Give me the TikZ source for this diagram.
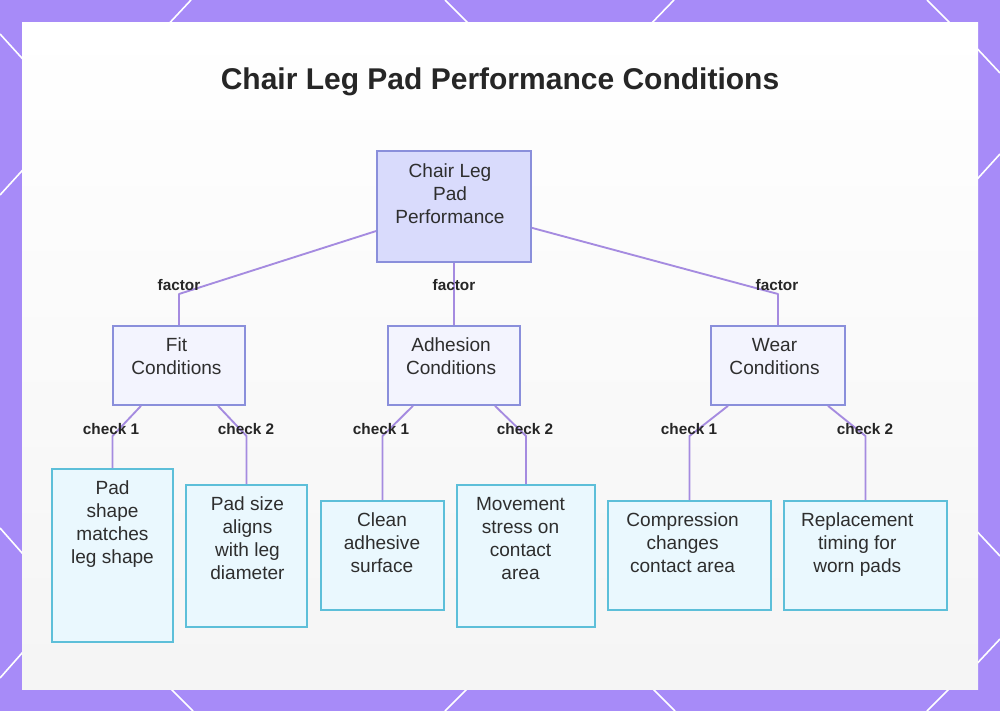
\documentclass[tikz,border=0pt]{standalone}
\usepackage{fontspec}
\setmainfont{Liberation Sans}
\usetikzlibrary{calc}
\definecolor{bgpurple}{HTML}{A78BF8}
\definecolor{rootfill}{HTML}{D9DBFC}
\definecolor{rootdraw}{HTML}{8A8FDB}
\definecolor{midfill}{HTML}{F3F4FE}
\definecolor{leaffill}{HTML}{EAF8FE}
\definecolor{leafdraw}{HTML}{5DBFD9}
\definecolor{connc}{HTML}{A58BE0}
\definecolor{txt}{HTML}{262626}
\definecolor{boxtxt}{HTML}{2E2E2E}
\tikzset{
  rootbox/.style={draw=rootdraw, fill=rootfill, line width=1.3pt, inner sep=0pt},
  midbox/.style={draw=rootdraw, fill=midfill, line width=1.3pt, inner sep=0pt},
  leafbox/.style={draw=leafdraw, fill=leaffill, line width=1.3pt, inner sep=0pt},
  boxtext/.style={anchor=north, align=center, inner sep=0pt, text=boxtxt,
    font=\fontsize{14.3}{17.3}\selectfont},
  conn/.style={draw=connc, line width=1.4pt, line join=round},
  edgelabel/.style={inner sep=0pt, text=txt, font=\fontsize{11.5}{13}\selectfont\bfseries},
  deco/.style={draw=white, line width=1.2pt}
}
\begin{document}
\begin{tikzpicture}[x=0.75pt,y=-0.75pt]
\useasboundingbox (0,0) rectangle (1000,711);
% background
\fill[bgpurple] (0,0) rectangle (1000,711);
\draw[deco] (191,0) -- (163,30);
\draw[deco] (445,0) -- (475,30);
\draw[deco] (674,0) -- (645,30);
\draw[deco] (927,0) -- (957,30);
\draw[deco] (163,681) -- (193,711);
\draw[deco] (475,681) -- (445,711);
\draw[deco] (645,681) -- (675,711);
\draw[deco] (957,681) -- (927,711);
\draw[deco] (0,34) -- (30,67);
\draw[deco] (30,162) -- (0,195);
\draw[deco] (0,528) -- (30,562);
\draw[deco] (30,644) -- (0,678);
\draw[deco] (970,41) -- (1000,73);
\draw[deco] (970,187) -- (1000,154);
\draw[deco] (970,524) -- (1000,556);
\draw[deco] (970,671) -- (1000,639);
\shade[top color=white, bottom color=black!4] (22,22) rectangle (978,689);

% title
\node[text=txt, font=\fontsize{22.5}{26}\selectfont\bfseries] (title) at (500,82) {Chair Leg Pad Performance Conditions};

% boxes
\node[rootbox, minimum width=115.5pt, minimum height=83.25pt] (root) at (454,206.5) {};
\node[midbox, minimum width=99pt, minimum height=59.25pt] (fit) at (179,365.5) {};
\node[midbox, minimum width=99pt, minimum height=59.25pt] (adh) at (454,365.5) {};
\node[midbox, minimum width=100.5pt, minimum height=59.25pt] (wear) at (778,365.5) {};
\node[leafbox, minimum width=90.75pt, minimum height=129.75pt] (l1) at (112.5,555.5) {};
\node[leafbox, minimum width=90.75pt, minimum height=106.5pt] (l2) at (246.5,556) {};
\node[leafbox, minimum width=92.25pt, minimum height=81.75pt] (l3) at (382.5,555.5) {};
\node[leafbox, minimum width=103.5pt, minimum height=106.5pt] (l4) at (526,556) {};
\node[leafbox, minimum width=122.25pt, minimum height=81.75pt] (l5) at (689.5,555.5) {};
\node[leafbox, minimum width=122.25pt, minimum height=81.75pt] (l6) at (865.5,555.5) {};

% box texts
\node[boxtext] (root-t) at ([xshift=-3pt,yshift=-9.6pt]root.north) {Chair Leg\\Pad\\Performance};
\node[boxtext] (fit-t) at ([xshift=-1.9pt,yshift=-9.4pt]fit.north) {Fit\\Conditions};
\node[boxtext] (adh-t) at ([xshift=-2.2pt,yshift=-9.4pt]adh.north) {Adhesion\\Conditions};
\node[boxtext] (wear-t) at ([xshift=-2.6pt,yshift=-9.4pt]wear.north) {Wear\\Conditions};
\node[boxtext] (l1-t) at ([yshift=-9.4pt]l1.north) {Pad\\shape\\matches\\leg shape};
\node[boxtext] (l2-t) at ([xshift=0.7pt,yshift=-9.4pt]l2.north) {Pad size\\aligns\\with leg\\diameter};
\node[boxtext] (l3-t) at ([xshift=-0.4pt,yshift=-9.4pt]l3.north) {Clean\\adhesive\\surface};
\node[boxtext] (l4-t) at ([xshift=-4.1pt,yshift=-9.4pt]l4.north) {Movement\\stress on\\contact\\area};
\node[boxtext] (l5-t) at ([xshift=-5.2pt,yshift=-9.4pt]l5.north) {Compression\\changes\\contact area};
\node[boxtext] (l6-t) at ([xshift=-6.2pt,yshift=-9.4pt]l6.north) {Replacement\\timing for\\worn pads};

% bend coordinates
\coordinate (bf) at (179,294);
\coordinate (bw) at (778,294);
\coordinate (b1) at (112.5,436);
\coordinate (b2) at (246.5,436);
\coordinate (b3) at (382.5,436);
\coordinate (b4) at (526,436);
\coordinate (b5) at (689.5,436);
\coordinate (b6) at (865.5,436);

% connectors
\draw[conn] ([yshift=-18.4pt]root.west) -- (bf) -- (fit.north);
\draw[conn] (root.south) -- (adh.north);
\draw[conn] ([yshift=-16pt]root.east) -- (bw) -- (wear.north);
\draw[conn] ([xshift=-28.5pt]fit.south) -- (b1) -- (l1.north);
\draw[conn] ([xshift=29.25pt]fit.south) -- (b2) -- (l2.north);
\draw[conn] ([xshift=-30.75pt]adh.south) -- (b3) -- (l3.north);
\draw[conn] ([xshift=30.75pt]adh.south) -- (b4) -- (l4.north);
\draw[conn] ([xshift=-37.5pt]wear.south) -- (b5) -- (l5.north);
\draw[conn] ([xshift=37.5pt]wear.south) -- (b6) -- (l6.north);

% labels
\node[edgelabel] (f1) at (179,285) {factor};
\node[edgelabel] (f2) at (454,285) {factor};
\node[edgelabel] (f3) at (777,285) {factor};
\node[edgelabel] (c1) at (111,429) {check 1};
\node[edgelabel] (c2) at (246,429) {check 2};
\node[edgelabel] (c3) at (381,429) {check 1};
\node[edgelabel] (c4) at (525,429) {check 2};
\node[edgelabel] (c5) at (689,429) {check 1};
\node[edgelabel] (c6) at (865,429) {check 2};
\end{tikzpicture}
\end{document}
